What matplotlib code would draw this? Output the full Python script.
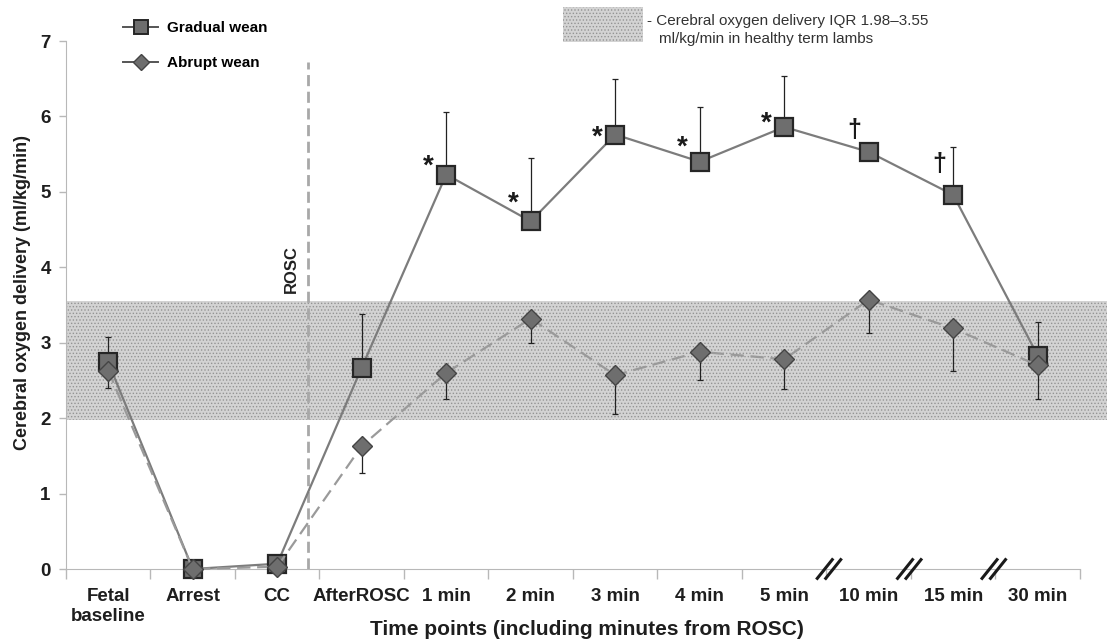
import numpy as np
import matplotlib.pyplot as plt
from matplotlib.lines import Line2D
from matplotlib.patches import Rectangle

plt.rcParams['font.family'] = ['Liberation Sans', 'DejaVu Sans']
plt.rcParams['hatch.linewidth'] = 0.6

# Time points on the x axis
categories = ["Fetal\nbaseline", "Arrest", "CC", "AfterROSC", "1 min", "2 min",
              "3 min", "4 min", "5 min", "10 min", "15 min", "30 min"]

# Gradual wean: mean and upper error bar end
gradual = [2.74, 0.00, 0.07, 2.67, 5.23, 4.61, 5.76, 5.40, 5.86, 5.53, 4.96, 2.83]
gradual_hi = [3.08, np.nan, np.nan, 3.38, 6.06, 5.45, 6.49, 6.13, 6.53, np.nan, 5.60, 3.27]

# Abrupt wean: mean and lower error bar end
abrupt = [2.63, 0.00, 0.03, 1.63, 2.60, 3.32, 2.57, 2.88, 2.78, 3.57, 3.19, 2.70]
abrupt_lo = [2.40, np.nan, np.nan, 1.27, 2.25, 2.99, 2.05, 2.51, 2.38, 3.13, 2.63, 2.26]

# healthy term lambs IQR band
iqr_low, iqr_high = 1.98, 3.55

# significance marks (category index, symbol, label height)
sig_idx = [4, 5, 6, 7, 8, 9, 10]
sig_sym = ["*", "*", "*", "*", "*", "\u2020", "\u2020"]
sig_y = [5.42, 4.92, 5.80, 5.66, 5.98, 5.82, 5.37]

# axis breaks between these boundaries
breaks = [8.55, 9.5, 10.5]
rosc_x = 2.36

x = np.arange(len(categories))
g = np.array(gradual)
a = np.array(abrupt)
ghi = np.array(gradual_hi)
alo = np.array(abrupt_lo)

fig = plt.figure(figsize=(11.07, 6.42), dpi=100)
ax = fig.add_axes([66/1107, 73/642, 1041/1107, 528/642])

# IQR band
ax.axhspan(iqr_low, iqr_high, facecolor='#d3d3d3', edgecolor='#949494',
           hatch='.....', linewidth=0, zorder=0)

# ROSC line
ax.plot([rosc_x, rosc_x], [0, 6.72], color='#a8a8a8', lw=2, ls=(0, (4, 2)), zorder=1)
ax.text(rosc_x - 0.19, 3.97, "ROSC", rotation=90, ha='center', va='center',
        fontsize=12, fontweight='bold', color='#222222')

# error bars
m = ~np.isnan(ghi)
ax.errorbar(x[m], g[m], yerr=[np.zeros(m.sum()), ghi[m] - g[m]], fmt='none',
            ecolor='#222222', elinewidth=0.9, capsize=2.5, capthick=0.9, zorder=2)
m = ~np.isnan(alo)
ax.errorbar(x[m], a[m], yerr=[a[m] - alo[m], np.zeros(m.sum())], fmt='none',
            ecolor='#222222', elinewidth=0.9, capsize=2.5, capthick=0.9, zorder=2)

# series (abrupt drawn over gradual)
ax.plot(x, g, color='#7c7c7c', lw=1.6, marker='s', ms=13,
        mfc='#6e6e6e', mec='#262626', mew=1.6, zorder=3, clip_on=False)
ax.plot(x, a, color='#9a9a9a', lw=1.6, ls=(0, (6, 3)), marker='D', ms=10,
        mfc='#6e6e6e', mec='#444444', mew=1.0, zorder=4, clip_on=False)

for i, s, yy in zip(sig_idx, sig_sym, sig_y):
    if s == "*":
        ax.text(i - 0.21, yy - 0.08, s, ha='center', va='center', fontsize=20,
                fontweight='bold', color='#1a1a1a')
    else:
        ax.text(i - 0.17, yy, s, ha='center', va='center', fontsize=18,
                fontweight='bold', color='#1a1a1a')

# axis breaks "//"
for b in breaks:
    for dx in (-0.05, 0.05):
        ax.plot([b - 0.12 + dx, b + 0.08 + dx], [-0.14, 0.14], color='#1a1a1a',
                lw=2.2, clip_on=False, zorder=5, solid_capstyle='butt')

ax.set_xlim(-0.5, 11.82)
ax.set_ylim(0, 7)
ax.set_xticks(np.arange(-0.5, len(categories), 1.0))
ax.set_xticklabels([])
ax.set_xticks(x, minor=True)
ax.set_xticklabels(categories, minor=True, fontsize=13.5, fontweight='bold', color='#1e1e1e')
ax.tick_params(axis='x', which='major', length=7, width=1, color='#b8b8b8', direction='out')
ax.tick_params(axis='x', which='minor', length=0, pad=14)
ax.set_yticks(range(8))
ax.set_yticklabels([str(v) for v in range(8)], fontsize=13.5, fontweight='bold', color='#1e1e1e')
ax.tick_params(axis='y', length=5, width=1, color='#b8b8b8', pad=6)

for sp in ['top', 'right']:
    ax.spines[sp].set_visible(False)
ax.spines['left'].set_color('#b8b8b8')
ax.spines['bottom'].set_color('#b8b8b8')
ax.spines['bottom'].set_bounds(-0.5, 11.5)

ax.set_ylabel("Cerebral oxygen delivery (ml/kg/min)", fontsize=13, fontweight='bold',
              color='#1e1e1e')
ax.yaxis.set_label_coords(-0.034, 0.523)
ax.set_xlabel("Time points (including minutes from ROSC)", fontsize=15,
              fontweight='bold', color='#1e1e1e')
ax.xaxis.set_label_coords(0.5, -0.097)

# legend
handles = [
    Line2D([], [], color='#555555', lw=1.4, marker='s', ms=10, mfc='#6e6e6e', mec='#262626', mew=1.4),
    Line2D([], [], color='#555555', lw=1.4, marker='D', ms=8, mfc='#6e6e6e', mec='#444444', mew=1.0),
]
ax.legend(handles, ["Gradual wean", "Abrupt wean"], loc='upper left',
          bbox_to_anchor=(123/1107, 1 - 21/642), bbox_transform=fig.transFigure,
          frameon=False, prop={'weight': 'bold', 'size': 11}, handlelength=2.3,
          handletextpad=0.6, labelspacing=1.38, borderpad=0, borderaxespad=0)

# IQR key
fig.add_artist(Rectangle((563/1107, 1 - 42/642), 80/1107, 35/642, transform=fig.transFigure,
                         facecolor='#d3d3d3', edgecolor='#949494', hatch='.....', linewidth=0))
fig.text(647/1107, 1 - 21/642, "- Cerebral oxygen delivery IQR 1.98\u20133.55",
         fontsize=11, color='#333333', va='center')
fig.text(659/1107, 1 - 39/642, "ml/kg/min in healthy term lambs",
         fontsize=11, color='#333333', va='center')

fig.savefig("out.png", dpi=100)
